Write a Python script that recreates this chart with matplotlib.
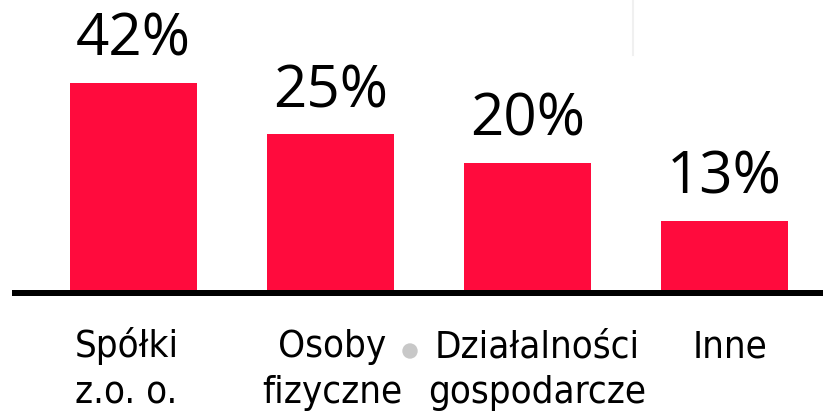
import matplotlib
matplotlib.use("Agg")
import matplotlib.pyplot as plt
from matplotlib.patches import Ellipse

categories_line1 = ["Spółki", "Osoby", "Działalności", "Inne"]
categories_line2 = ["z.o. o.", "fizyczne", "gospodarcze", ""]
value_labels = ["42%", "25%", "20%", "13%"]
bar_heights = [42, 31.6, 25.8, 14.0]   # drawn heights as seen in the picture

W, H, DPI = 823, 413, 100
fig = plt.figure(figsize=(W / DPI, H / DPI), dpi=DPI)
ax = fig.add_axes([0, 0, 1, 1])

px_per_unit = 4.93
base_px = 290
x0_px, step_px = 133.5, 197.0
ax.set_xlim(-x0_px / step_px, (W - x0_px) / step_px)
ax.set_ylim(-(H - base_px) / px_per_unit, base_px / px_per_unit)
ax.axis("off")

red = "#FF0B3D"
xs = list(range(len(categories_line1)))
ax.bar(xs, bar_heights, width=127 / step_px, color=red, zorder=2)

ax.axhline(-3 / px_per_unit, xmin=15 / W, xmax=1, color="black", linewidth=6 * 72 / DPI, zorder=3)

top_font = ["Open Sans", "DejaVu Sans"]
bot_font = ["DejaVu Sans", "Open Sans"]

for x, h, lab in zip(xs, bar_heights, value_labels):
    ax.annotate(lab, (x, h), xytext=(0, 27 * 72 / DPI), textcoords="offset points",
                ha="center", va="baseline", fontsize=42, family=top_font, color="black")

# small horizontal nudges of the category labels (pixels), as in the original layout
label_nudge_px = [-7, 2, 10, 6]
y1 = -(357 - base_px) / px_per_unit
y2 = -(403 - base_px) / px_per_unit
for x, l1, l2, dx in zip(xs, categories_line1, categories_line2, label_nudge_px):
    xx = x + dx / step_px
    ax.text(xx, y1, l1, ha="center", va="baseline", fontsize=27.5,
            family=bot_font, fontstretch="condensed", color="black")
    if l2:
        ax.text(xx, y2, l2, ha="center", va="baseline", fontsize=27.5,
                family=bot_font, fontstretch="condensed", color="black")

fig.patches.append(Ellipse((410 / W, 1 - 351 / H), 14 / W, 14 / H, transform=fig.transFigure,
                           color="#c8c8c8", zorder=1))
fig.lines.append(plt.Line2D([633 / W, 633 / W], [1, 1 - 55 / H], transform=fig.transFigure,
                            color="#f0f0f0", linewidth=1.5))

fig.savefig("out.png", dpi=DPI)
